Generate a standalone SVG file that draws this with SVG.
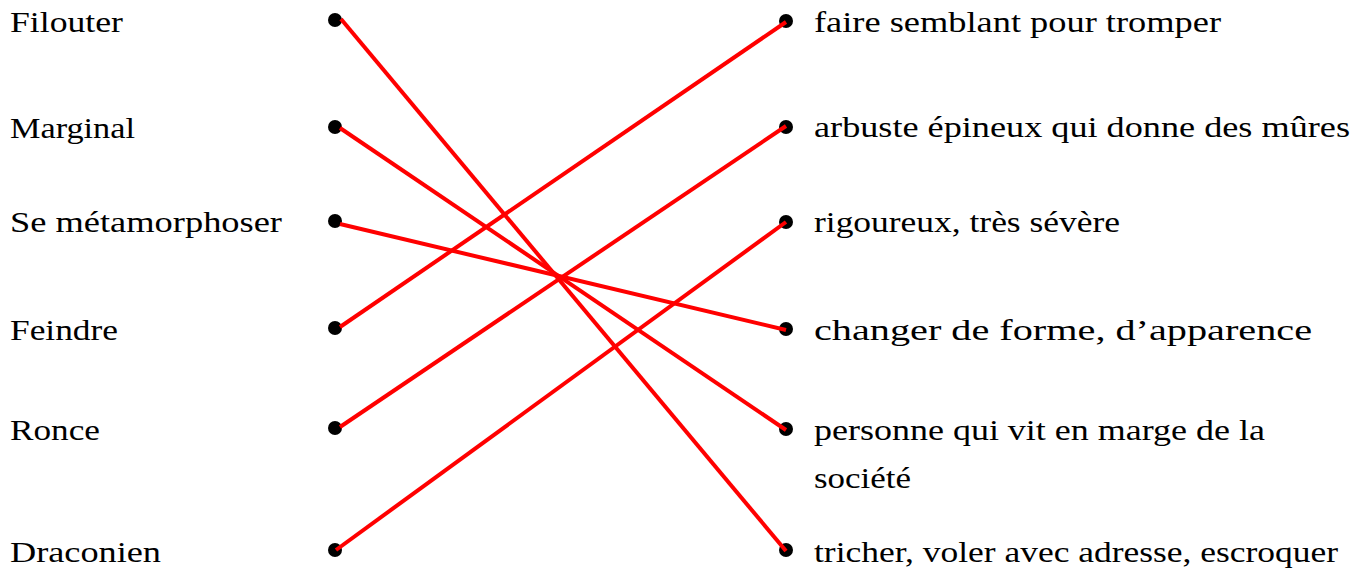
<svg xmlns="http://www.w3.org/2000/svg" width="1369" height="574" viewBox="0 0 1369 574">
<style>
text{font-family:"Liberation Serif","Times New Roman",serif;font-size:30px;fill:#000}
.dot{fill:#000}
.ln{stroke:#ff0000;stroke-width:4;fill:none}
</style>
<rect width="1369" height="574" fill="#fff"/>
<g id="left">
<g id="n-filouter"><text x="10" y="32" textLength="113" lengthAdjust="spacingAndGlyphs">Filouter</text><circle class="dot" cx="335" cy="20" r="7"/></g>
<g id="n-marginal"><text x="10" y="138" textLength="125" lengthAdjust="spacingAndGlyphs">Marginal</text><circle class="dot" cx="335" cy="127" r="7"/></g>
<g id="n-metamorphoser"><text x="10" y="232" textLength="272" lengthAdjust="spacingAndGlyphs">Se métamorphoser</text><circle class="dot" cx="335" cy="221" r="7"/></g>
<g id="n-feindre"><text x="10" y="340" textLength="108" lengthAdjust="spacingAndGlyphs">Feindre</text><circle class="dot" cx="335" cy="328" r="7"/></g>
<g id="n-ronce"><text x="10" y="440" textLength="90" lengthAdjust="spacingAndGlyphs">Ronce</text><circle class="dot" cx="335" cy="428" r="7"/></g>
<g id="n-draconien"><text x="10" y="562" textLength="151" lengthAdjust="spacingAndGlyphs">Draconien</text><circle class="dot" cx="335" cy="550" r="7"/></g>
</g>
<g id="right">
<g id="d-faire"><circle class="dot" cx="786" cy="21" r="7"/><text x="814" y="32" textLength="407" lengthAdjust="spacingAndGlyphs">faire semblant pour tromper</text></g>
<g id="d-arbuste"><circle class="dot" cx="786" cy="127" r="7"/><text x="814" y="137" textLength="536" lengthAdjust="spacingAndGlyphs">arbuste épineux qui donne des mûres</text></g>
<g id="d-rigoureux"><circle class="dot" cx="786" cy="222" r="7"/><text x="814" y="232" textLength="306" lengthAdjust="spacingAndGlyphs">rigoureux, très sévère</text></g>
<g id="d-changer"><circle class="dot" cx="786" cy="329" r="7"/><text x="814" y="340" textLength="498" lengthAdjust="spacingAndGlyphs">changer de forme, d’apparence</text></g>
<g id="d-personne"><circle class="dot" cx="786" cy="429" r="7"/><text x="814" y="440" textLength="451" lengthAdjust="spacingAndGlyphs">personne qui vit en marge de la</text><text x="814" y="488" textLength="97" lengthAdjust="spacingAndGlyphs">société</text></g>
<g id="d-tricher"><circle class="dot" cx="786" cy="550" r="7"/><text x="814" y="562" textLength="524" lengthAdjust="spacingAndGlyphs">tricher, voler avec adresse, escroquer</text></g>
</g>
<g id="connectors">
<line class="ln" x1="341" y1="19" x2="786" y2="551"/>
<line class="ln" x1="340" y1="128" x2="786" y2="430"/>
<line class="ln" x1="340" y1="224" x2="786" y2="330"/>
<line class="ln" x1="340" y1="327" x2="786" y2="22"/>
<line class="ln" x1="340" y1="427" x2="786" y2="126"/>
<line class="ln" x1="336" y1="550" x2="786" y2="222"/>
</g>
</svg>
